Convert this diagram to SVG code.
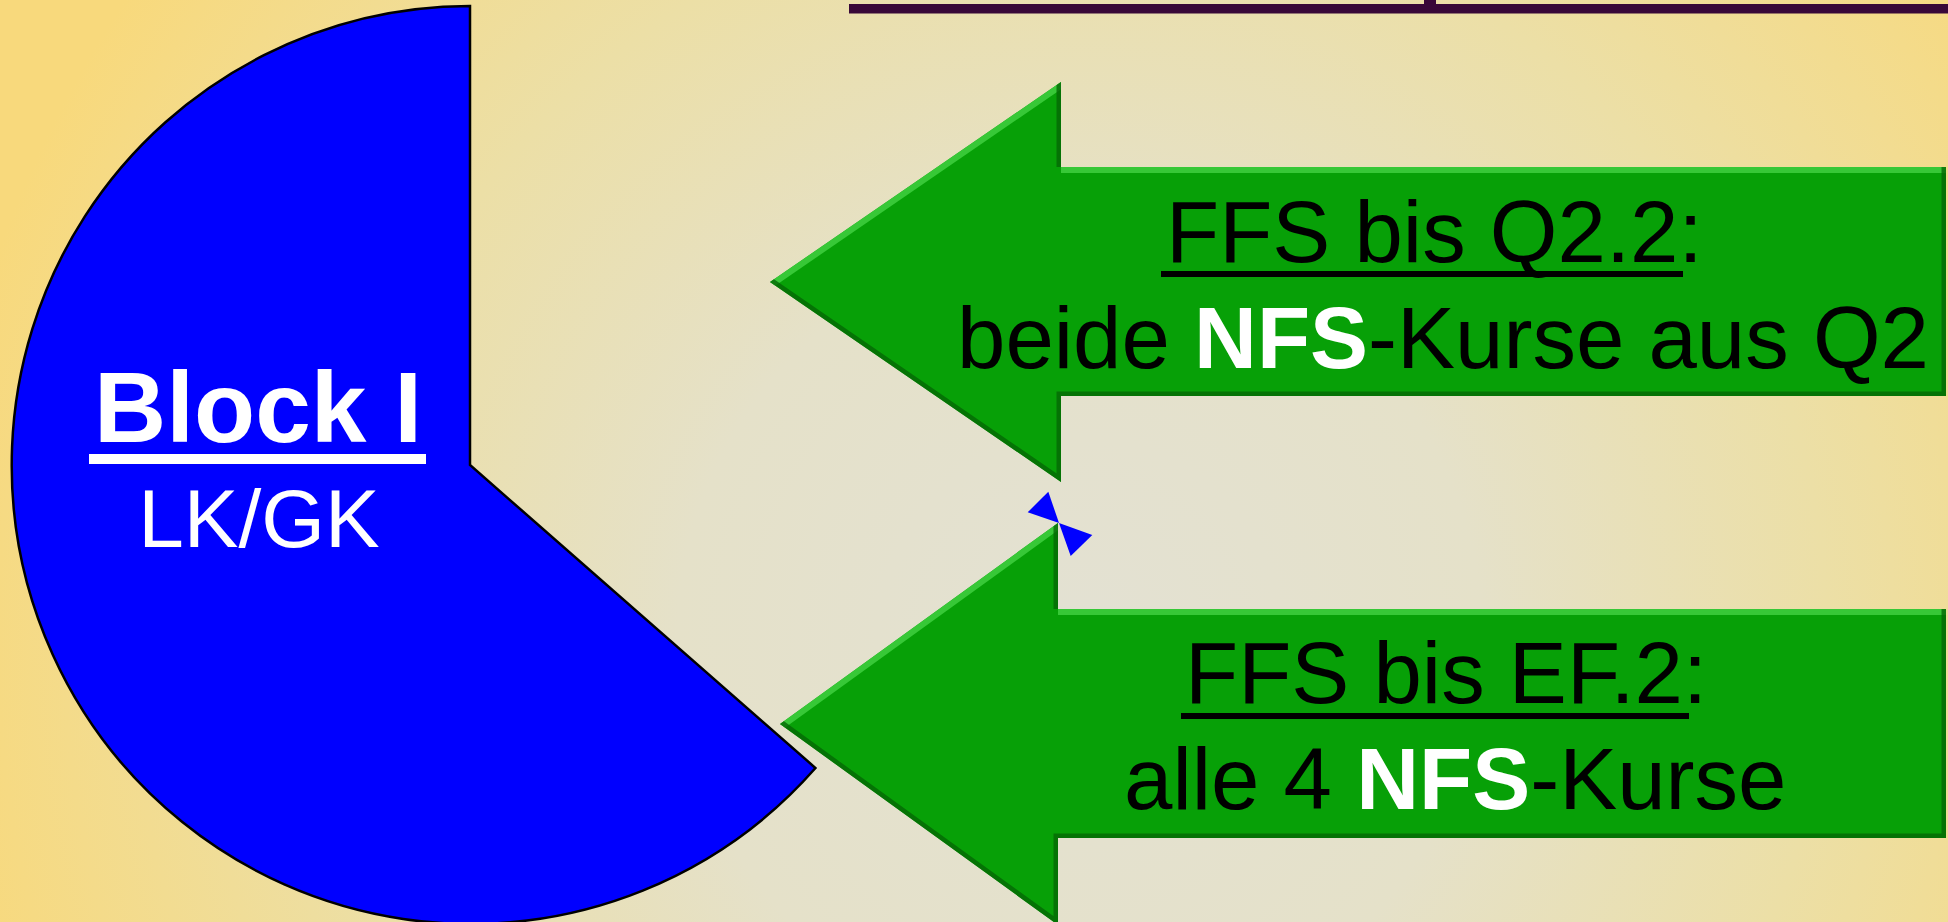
<svg xmlns="http://www.w3.org/2000/svg" width="1948" height="922" viewBox="0 0 1948 922">
<defs>
<radialGradient id="bg" gradientUnits="userSpaceOnUse" cx="1080" cy="640" r="1150">
<stop offset="0" stop-color="#e3e1d3"/>
<stop offset="0.35" stop-color="#e5e1c9"/>
<stop offset="0.65" stop-color="#ecdfa6"/>
<stop offset="1" stop-color="#f8d97c"/>
</radialGradient>
<clipPath id="clipA1"><polygon points="770,282 1061,82 1061,167 1946,167 1946,396 1061,396 1061,482"/></clipPath>
<clipPath id="clipA2"><polygon points="780,724 1058,523 1058,609 1946,609 1946,838 1058,838 1058,925"/></clipPath>
<style>
.arrow{fill:#07a007;}
.hi{fill:none;stroke:#3fcf3f;stroke-width:12;stroke-opacity:0.85;stroke-linejoin:miter;}
.sh{fill:none;stroke:#056805;stroke-width:9;stroke-opacity:0.8;stroke-linejoin:miter;}
.t{font-family:"Liberation Sans",Arial,sans-serif;}
.blk{fill:#000;}
.wht{fill:#fff;}
.b{font-weight:bold;}
</style>
</defs>
<rect x="0" y="0" width="1948" height="922" fill="url(#bg)"/>
<g id="header">
<rect x="849" y="4" width="1099" height="9.5" fill="#380838"/>
<rect x="1424" y="0" width="12" height="5" fill="#380838"/>
</g>
<g id="block1">
<path d="M470 465 L470 6 A459 459 0 1 0 815.5 768 Z" fill="#0000ff" stroke="#000" stroke-width="2.5" stroke-linejoin="miter"/>
<text class="t wht b" x="258" y="442" font-size="100" text-anchor="middle">Block I</text>
<rect x="89" y="454" width="337" height="10" fill="#fff"/>
<text class="t wht" x="259" y="547" font-size="82" text-anchor="middle">LK/GK</text>
</g>
<g id="arrow-q2">
<polygon class="arrow" points="770,282 1061,82 1061,167 1946,167 1946,396 1061,396 1061,482"/>
<g clip-path="url(#clipA1)">
<polyline class="hi" points="770,282 1061,82"/>
<polyline class="hi" points="1061,167 1946,167"/>
<polyline class="sh" points="770,282 1061,482 1061,396 1946,396 1946,167"/>
<polyline class="sh" points="1061,82 1061,167" stroke-width="6"/>
</g>
<text class="t blk" x="1166" y="262" font-size="87">FFS bis Q2.2:</text>
<rect x="1161" y="271" width="522" height="6" fill="#000"/>
<text class="t blk" x="957" y="368" font-size="87">beide <tspan class="wht b">NFS</tspan>-Kurse aus Q2</text>
</g>
<g id="arrow-ef">
<polygon class="arrow" points="780,724 1058,523 1058,609 1946,609 1946,838 1058,838 1058,925"/>
<g clip-path="url(#clipA2)">
<polyline class="hi" points="780,724 1058,523"/>
<polyline class="hi" points="1058,609 1946,609"/>
<polyline class="sh" points="780,724 1058,925 1058,838 1946,838 1946,609"/>
<polyline class="sh" points="1058,523 1058,609" stroke-width="6"/>
</g>
<text class="t blk" x="1185" y="703" font-size="87">FFS bis EF.2:</text>
<rect x="1181" y="713" width="508" height="6" fill="#000"/>
<text class="t blk" x="1124" y="809" font-size="87">alle 4 <tspan class="wht b">NFS</tspan>-Kurse</text>
</g>
<g id="bowtie">
<polygon points="1059,523 1048.3,491.7 1027.7,512.3" fill="#0000ff"/>
<polygon points="1059,523 1092.3,535 1070.7,556" fill="#0000ff"/>
</g>
<g id="connectors"/>
</svg>
